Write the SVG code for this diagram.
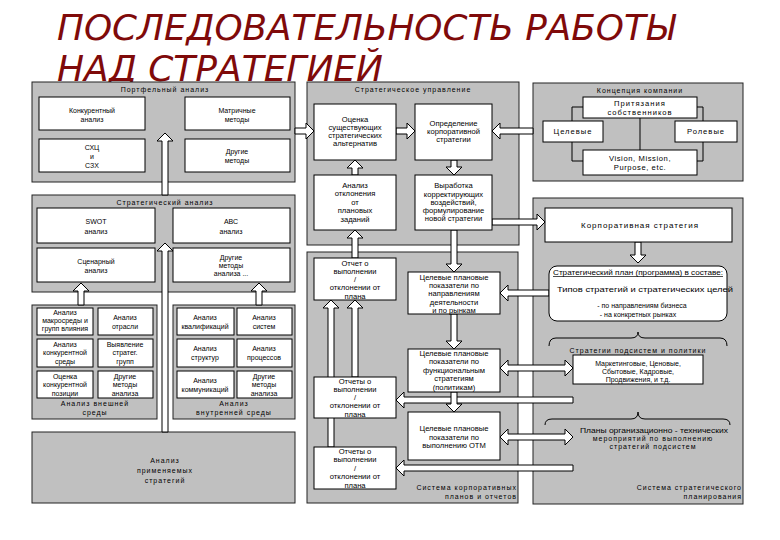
<svg xmlns="http://www.w3.org/2000/svg" width="780" height="540" viewBox="0 0 780 540">
<style>
.pn{fill:#c0c0c0;stroke:#222;stroke-width:1}
.bx{fill:#fff;stroke:#000;stroke-width:1}
.ar{fill:#fff;stroke:#000;stroke-width:1}
.ln{fill:none;stroke:#000;stroke-width:1}
text{font-family:"Liberation Sans",Arial,sans-serif;font-size:7px;fill:#000;text-anchor:middle}
.m{font-size:7.6px}
.ls{letter-spacing:1px}
.ttl{font-family:"DejaVu Sans","Liberation Sans",sans-serif;font-size:36px;font-style:italic;fill:#7f0a0a;text-anchor:start}
.r{text-anchor:end}
</style>
<rect x="0" y="0" width="780" height="540" fill="#fff"/>
<g id="title">
<text class="ttl" x="57" y="40" textLength="618" lengthAdjust="spacingAndGlyphs">ПОСЛЕДОВАТЕЛЬНОСТЬ РАБОТЫ</text>
<text class="ttl" x="57" y="81" textLength="326" lengthAdjust="spacingAndGlyphs">НАД СТРАТЕГИЕЙ</text>
</g>
<g id="portfolio-panel"><rect class="pn" x="32" y="82" width="263" height="100"/><text class="ls" x="165" y="92">Портфельный анализ</text></g>
<g id="strategic-analysis-panel"><rect class="pn" x="32" y="195" width="263" height="97"/><text class="ls" x="165" y="205">Стратегический анализ</text></g>
<g id="external-panel"><rect class="pn" x="32" y="305" width="125" height="114"/><text class="ls" x="95" y="406">Анализ внешней</text><text class="ls" x="95" y="415">среды</text></g>
<g id="internal-panel"><rect class="pn" x="173" y="305" width="122" height="114"/><text class="ls" x="234" y="406">Анализ</text><text class="ls" x="234" y="415">внутренней среды</text></g>
<g id="applied-panel"><rect class="pn" x="32" y="432" width="263" height="71"/><text class="ls" x="165" y="463">Анализ</text><text class="ls" x="165" y="473">применяемых</text><text class="ls" x="165" y="483">стратегий</text></g>
<g id="management-panel"><rect class="pn" x="307" y="82" width="212" height="163"/><text class="ls" x="413" y="92">Стратегическое управление</text></g>
<g id="plans-panel"><rect class="pn" x="307" y="252" width="211" height="251"/><text class="r ls" x="517" y="490">Система корпоративных</text><text class="r ls" x="517" y="499">планов и отчетов</text></g>
<g id="concept-panel"><rect class="pn" x="533" y="83" width="210" height="98"/><text class="ls" x="640" y="93">Концепция компании</text></g>
<g id="planning-panel"><rect class="pn" x="533" y="198" width="210" height="306"/><text class="r ls" x="742" y="490">Система стратегического</text><text class="r ls" x="742" y="499">планирования</text></g>
<g id="connectors">
<polygon class="ar" points="165,133 173,141 168,141 168,195 162,195 162,141 157,141"/>
<polygon class="ar" points="165,243 173,251 168,251 168,432 162,432 162,251 157,251"/>
<polygon class="ar" points="81,283 89,291 84,291 84,305 78,305 78,291 73,291"/>
<polygon class="ar" points="259,283 267,291 262,291 262,305 256,305 256,291 251,291"/>
<polygon class="ar" points="314,131 306,123 306,128 295,128 295,134 306,134 306,139"/>
<polygon class="ar" points="415,131 407,123 407,128 396,128 396,134 407,134 407,139"/>
<polygon class="ar" points="355,160 363,168 358,168 358,175 352,175 352,168 347,168"/>
<polygon class="ar" points="454,175 462,167 457,167 457,160 451,160 451,167 446,167"/>
<polygon class="ar" points="355,230 363,238 358,238 358,258 352,258 352,238 347,238"/>
<polygon class="ar" points="492,131 500,123 500,128 533,128 533,134 500,134 500,139"/>
<polygon class="ar" points="545,222 537,214 537,219 492,219 492,225 537,225 537,230"/>
<polygon class="ar" points="454,272 462,264 457,264 457,230 451,230 451,264 446,264"/>
<polygon class="ar" points="331,300 339,308 334,308 334,447 328,447 328,308 323,308"/>
<polygon class="ar" points="355,300 363,308 358,308 358,377 352,377 352,308 347,308"/>
<polygon class="ar" points="454,349 462,341 457,341 457,314 451,314 451,341 446,341"/>
<polygon class="ar" points="500,293 508,285 508,290 549,290 549,296 508,296 508,301"/>
<polygon class="ar" points="500,368 508,360 508,365 565,365 565,360 573,368 565,376 565,371 508,371 508,376"/>
<polygon class="ar" points="396,400 404,392 404,397 573,397 573,403 404,403 404,408"/>
<polygon class="ar" points="454,412 462,404 457,404 457,392 451,392 451,404 446,404"/>
<polygon class="ar" points="500,437 508,429 508,434 565,434 565,429 573,437 565,445 565,440 508,440 508,445"/>
<polygon class="ar" points="396,468 404,460 404,465 573,465 573,471 404,471 404,476"/>
<polygon class="ar" points="638,263 646,255 641,255 641,242 635,242 635,255 630,255"/>
<polyline class="ln" points="583,107 572,107 572,121"/>
<polyline class="ln" points="572,142 572,161 583,161"/>
<polyline class="ln" points="697,107 703,107 703,121"/>
<polyline class="ln" points="703,142 703,161 697,161"/>
<line class="ln" x1="640" y1="118" x2="640" y2="150"/>
<path class="ln" d="M549,346 Q549,338 556,338 L631,338 Q638,338 638,332 Q638,338 645,338 L720,338 Q727,338 727,346"/>
<path class="ln" d="M545,425 Q545,419 552,419 L631,419 Q638,419 638,412 Q638,419 645,419 L723,419 Q730,419 730,425"/>
</g>
<g id="competitive"><rect class="bx" x="39" y="97" width="106" height="33"/><text x="92" y="113">Конкурентный</text><text x="92" y="122">анализ</text></g>
<g id="matrix"><rect class="bx" x="185" y="97" width="105" height="33"/><text x="237" y="113">Матричные</text><text x="237" y="122">методы</text></g>
<g id="shc"><rect class="bx" x="39" y="139" width="106" height="33"/><text x="92" y="150">СХЦ</text><text x="92" y="159">и</text><text x="92" y="168">СЗХ</text></g>
<g id="other-methods-1"><rect class="bx" x="185" y="139" width="105" height="33"/><text x="237" y="154">Другие</text><text x="237" y="163">методы</text></g>
<g id="swot"><rect class="bx" x="37" y="208" width="118" height="35"/><text x="96" y="224">SWOT</text><text x="96" y="234">анализ</text></g>
<g id="abc"><rect class="bx" x="173" y="208" width="117" height="35"/><text x="231" y="224">АВС</text><text x="231" y="234">анализ</text></g>
<g id="scenario"><rect class="bx" x="37" y="248" width="118" height="34"/><text x="96" y="264">Сценарный</text><text x="96" y="273">анализ</text></g>
<g id="other-methods-2"><rect class="bx" x="173" y="248" width="117" height="34"/><text x="231" y="260">Другие</text><text x="231" y="268">методы</text><text x="231" y="276">анализа ...</text></g>
<g id="macro"><rect class="bx" x="37" y="308" width="56" height="27"/><text x="65" y="315">Анализ</text><text x="65" y="323">макросреды и</text><text x="65" y="331">групп влияния</text></g>
<g id="industry"><rect class="bx" x="98" y="308" width="55" height="27"/><text x="125" y="320">Анализ</text><text x="125" y="329">отрасли</text></g>
<g id="comp-env"><rect class="bx" x="37" y="339" width="56" height="28"/><text x="65" y="347">Анализ</text><text x="65" y="355">конкурентной</text><text x="65" y="364">среды</text></g>
<g id="groups"><rect class="bx" x="98" y="339" width="55" height="28"/><text x="125" y="347">Выявление</text><text x="125" y="355">стратег.</text><text x="125" y="364">групп</text></g>
<g id="position"><rect class="bx" x="37" y="371" width="56" height="27"/><text x="65" y="379">Оценка</text><text x="65" y="387">конкурентной</text><text x="65" y="396">позиции</text></g>
<g id="other-ext"><rect class="bx" x="98" y="371" width="55" height="27"/><text x="125" y="379">Другие</text><text x="125" y="387">методы</text><text x="125" y="396">анализа</text></g>
<g id="qualif"><rect class="bx" x="177" y="308" width="57" height="27"/><text x="205" y="320">Анализ</text><text x="205" y="329">квалификаций</text></g>
<g id="systems"><rect class="bx" x="237" y="308" width="55" height="27"/><text x="264" y="320">Анализ</text><text x="264" y="329">систем</text></g>
<g id="structures"><rect class="bx" x="177" y="339" width="57" height="28"/><text x="205" y="351">Анализ</text><text x="205" y="360">структур</text></g>
<g id="processes"><rect class="bx" x="237" y="339" width="55" height="28"/><text x="264" y="351">Анализ</text><text x="264" y="360">процессов</text></g>
<g id="communications"><rect class="bx" x="177" y="371" width="57" height="27"/><text x="205" y="383">Анализ</text><text x="205" y="392">коммуникаций</text></g>
<g id="other-int"><rect class="bx" x="237" y="371" width="55" height="27"/><text x="264" y="379">Другие</text><text x="264" y="387">методы</text><text x="264" y="396">анализа</text></g>
<g id="evaluate"><rect class="bx" x="314" y="104" width="82" height="56"/><text class="m" x="355" y="122">Оценка</text><text class="m" x="355" y="130">существующих</text><text class="m" x="355" y="138">стратегических</text><text class="m" x="355" y="146">альтернатив</text></g>
<g id="define"><rect class="bx" x="415" y="104" width="77" height="56"/><text class="m" x="453.5" y="126">Определение</text><text class="m" x="453.5" y="134">корпоративной</text><text class="m" x="453.5" y="142">стратегии</text></g>
<g id="deviation"><rect class="bx" x="314" y="175" width="82" height="55"/><text class="m" x="355" y="188">Анализ</text><text class="m" x="355" y="196">отклонения</text><text class="m" x="355" y="205">от</text><text class="m" x="355" y="213">плановых</text><text class="m" x="355" y="222">заданий</text></g>
<g id="corrective"><rect class="bx" x="415" y="175" width="77" height="55"/><text class="m" x="453.5" y="188">Выработка</text><text class="m" x="453.5" y="197">корректирующих</text><text class="m" x="453.5" y="205">воздействий,</text><text class="m" x="453.5" y="213">формулирование</text><text class="m" x="453.5" y="221">новой стратегии</text></g>
<g id="report-top"><rect class="bx" x="314" y="258" width="82" height="42"/><text class="m" x="355" y="265.5">Отчет о</text><text class="m" x="355" y="274">выполнении</text><text class="m" x="355" y="282">/</text><text class="m" x="355" y="290">отклонении от</text><text class="m" x="355" y="299">плана</text></g>
<g id="targets-directions"><rect class="bx" x="408" y="272" width="92" height="42"/><text class="m" x="454" y="280">Целевые плановые</text><text class="m" x="454" y="288">показатели по</text><text class="m" x="454" y="296">направлениям</text><text class="m" x="454" y="305">деятельности</text><text class="m" x="454" y="313">и по рынкам</text></g>
<g id="targets-functional"><rect class="bx" x="408" y="349" width="92" height="43"/><text class="m" x="454" y="356">Целевые плановые</text><text class="m" x="454" y="364">показатели по</text><text class="m" x="454" y="373">функциональным</text><text class="m" x="454" y="381">стратегиям</text><text class="m" x="454" y="390">(политикам)</text></g>
<g id="report-1"><rect class="bx" x="314" y="377" width="82" height="41"/><text class="m" x="355" y="384">Отчеты о</text><text class="m" x="355" y="392">выполнении</text><text class="m" x="355" y="400">/</text><text class="m" x="355" y="408">отклонении от</text><text class="m" x="355" y="417">плана</text></g>
<g id="targets-otm"><rect class="bx" x="408" y="412" width="92" height="48"/><text class="m" x="454" y="431">Целевые плановые</text><text class="m" x="454" y="440">показатели по</text><text class="m" x="454" y="448">выполнению ОТМ</text></g>
<g id="report-2"><rect class="bx" x="314" y="447" width="82" height="42"/><text class="m" x="355" y="454">Отчеты о</text><text class="m" x="355" y="462">выполнении</text><text class="m" x="355" y="471">/</text><text class="m" x="355" y="479">отклонении от</text><text class="m" x="355" y="488">плана</text></g>
<g id="owners"><rect class="bx" x="583" y="97" width="114" height="21"/><text class="m ls" x="640" y="106">Притязания</text><text class="m ls" x="640" y="115">собственников</text></g>
<g id="target-goals"><rect class="bx" x="543" y="121" width="60" height="21"/><text class="m ls" x="573" y="134">Целевые</text></g>
<g id="role-goals"><rect class="bx" x="675" y="121" width="62" height="21"/><text class="m ls" x="706" y="134">Ролевые</text></g>
<g id="vision"><rect class="bx" x="583" y="150" width="114" height="25"/><text class="m" x="640" y="161" style="letter-spacing:0.6px">Vision, Mission,</text><text class="m" x="640" y="170" style="letter-spacing:0.6px">Purpose, etc.</text></g>
<g id="corp-strategy"><rect class="bx" x="545" y="208" width="187" height="34"/><text class="ls" x="640" y="228" style="font-size:8px">Корпоративная стратегия</text></g>
<g id="strategic-plan"><rect class="bx" x="549" y="266" width="178" height="55" rx="8"/><text x="638" y="275" text-decoration="underline" textLength="170" lengthAdjust="spacingAndGlyphs">Стратегический план (программа) в составе:</text><text x="645" y="292" textLength="176" lengthAdjust="spacingAndGlyphs">Типов стратегий и стратегических целей</text><text x="642" y="308">- по направлениям бизнеса</text><text x="638" y="317">- на конкретных рынках</text></g>
<g id="subsystems"><text class="ls" x="638" y="353">Стратегии подсистем и политики</text></g>
<g id="policies"><rect class="bx" x="573" y="355" width="130" height="29"/><text x="638" y="366">Маркетинговые, Ценовые,</text><text x="638" y="374">Сбытовые, Кадровые,</text><text x="638" y="382">Продвижения, и т.д.</text></g>
<g id="otm-plans"><text x="654" y="433" textLength="148" lengthAdjust="spacingAndGlyphs">Планы организационно - технических</text><text class="ls" x="653" y="441">мероприятий по выполнению</text><text class="ls" x="653" y="449">стратегий подсистем</text></g>
</svg>
